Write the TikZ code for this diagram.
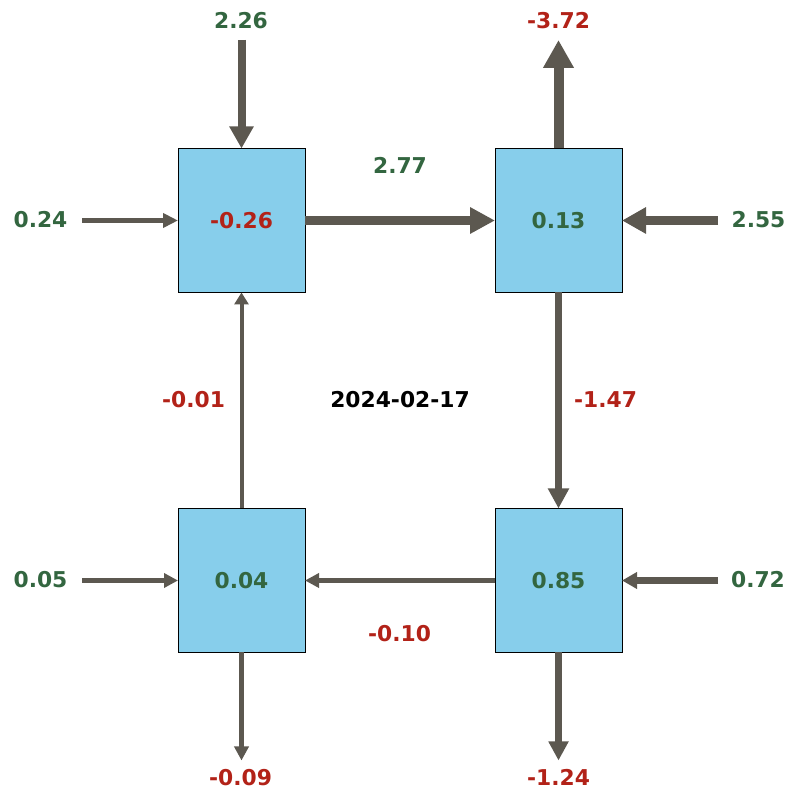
\documentclass[tikz,border=0pt]{standalone}
\usepackage{fontspec}
\setmainfont{DejaVu Sans}
\usetikzlibrary{positioning,arrows.meta}
\definecolor{flowgray}{RGB}{92,88,80}
\definecolor{posgreen}{RGB}{51,102,64}
\definecolor{negred}{RGB}{178,34,24}
\definecolor{boxblue}{RGB}{135,206,235}
\tikzset{
  cell/.style={draw=black, line width=0.8pt, fill=boxblue, minimum width=127pt,
    minimum height=144pt, inner sep=0pt, outer sep=0pt},
  val/.style={font=\fontsize{21.8}{25}\selectfont\bfseries, inner sep=0pt},
  flow/.style n args={3}{draw=flowgray, line width=#1, -{Triangle[width=#2, length=#3]}}
}
\begin{document}
\begin{tikzpicture}[x=1pt, y=1pt]
  \useasboundingbox (0,0) rectangle (800,800);
  % the four cells
  \node[cell, val, text=negred] (tl) at (241.5,579.5) {-0.26};
  \node[cell, val, text=posgreen] (tr) [right=190pt of tl] {0.13};
  \node[cell, val, text=posgreen] (bl) [below=216pt of tl] {0.04};
  \node[cell, val, text=posgreen] (br) [below=216pt of tr] {0.85};
  % free ends
  \coordinate[above=108.5pt of tl.north] (s226);
  \coordinate[above=108.5pt of tr.north] (e372);
  \coordinate[left=96pt of tl.west] (s024);
  \coordinate[right=96pt of tr.east] (s255);
  \coordinate[left=96pt of bl.west] (s005);
  \coordinate[right=96pt of br.east] (s072);
  \coordinate[below=108pt of bl.south] (e009);
  \coordinate[below=108pt of br.south] (e124);
  % outside values
  \node[val, text=posgreen] (v226) at (241,779) {2.26};
  \node[val, text=negred] (v372) at (558.5,779) {-3.72};
  \node[val, text=posgreen] (v024) at (40.5,580.5) {0.24};
  \node[val, text=posgreen] (v255) at (758.5,580.5) {2.55};
  \node[val, text=posgreen] (v005) at (40.5,220.5) {0.05};
  \node[val, text=posgreen] (v072) at (758,220.5) {0.72};
  \node[val, text=negred] (v009) at (240.5,22.5) {-0.09};
  \node[val, text=negred] (v124) at (558.5,22.5) {-1.24};
  % inner values
  \node[val, text=posgreen] (v277) at (400,634.5) {2.77};
  \node[val, text=negred] (v010) at (399.5,166.5) {-0.10};
  \node[val, text=negred] (v001) at (193.5,400.5) {-0.01};
  \node[val, text=negred] (v147) at (605.5,400.5) {-1.47};
  \node[val] (date) at (400,400.5) {2024-02-17};
  % flows
  \draw[flow={8pt}{23pt}{22pt}] (s226) -- (tl.north);
  \draw[flow={10pt}{29pt}{28pt}] (tr.north) -- (e372);
  \draw[flow={5.3pt}{14pt}{15pt}] (s024) -- (tl.west);
  \draw[flow={9pt}{25pt}{24pt}] (s255) -- (tr.east);
  \draw[flow={9.7pt}{25pt}{25pt}] (tl.east) -- (tr.west);
  \draw[flow={6.7pt}{20pt}{20pt}] (tr.south) -- (br.north);
  \draw[flow={4pt}{14pt}{12pt}] (bl.north) -- (tl.south);
  \draw[flow={5.5pt}{14pt}{14pt}] (br.west) -- (bl.east);
  \draw[flow={5pt}{14pt}{14pt}] (s005) -- (bl.west);
  \draw[flow={6.7pt}{16pt}{15pt}] (s072) -- (br.east);
  \draw[flow={5.5pt}{14pt}{14pt}] (bl.south) -- (e009);
  \draw[flow={7pt}{19pt}{19pt}] (br.south) -- (e124);
\end{tikzpicture}
\end{document}
